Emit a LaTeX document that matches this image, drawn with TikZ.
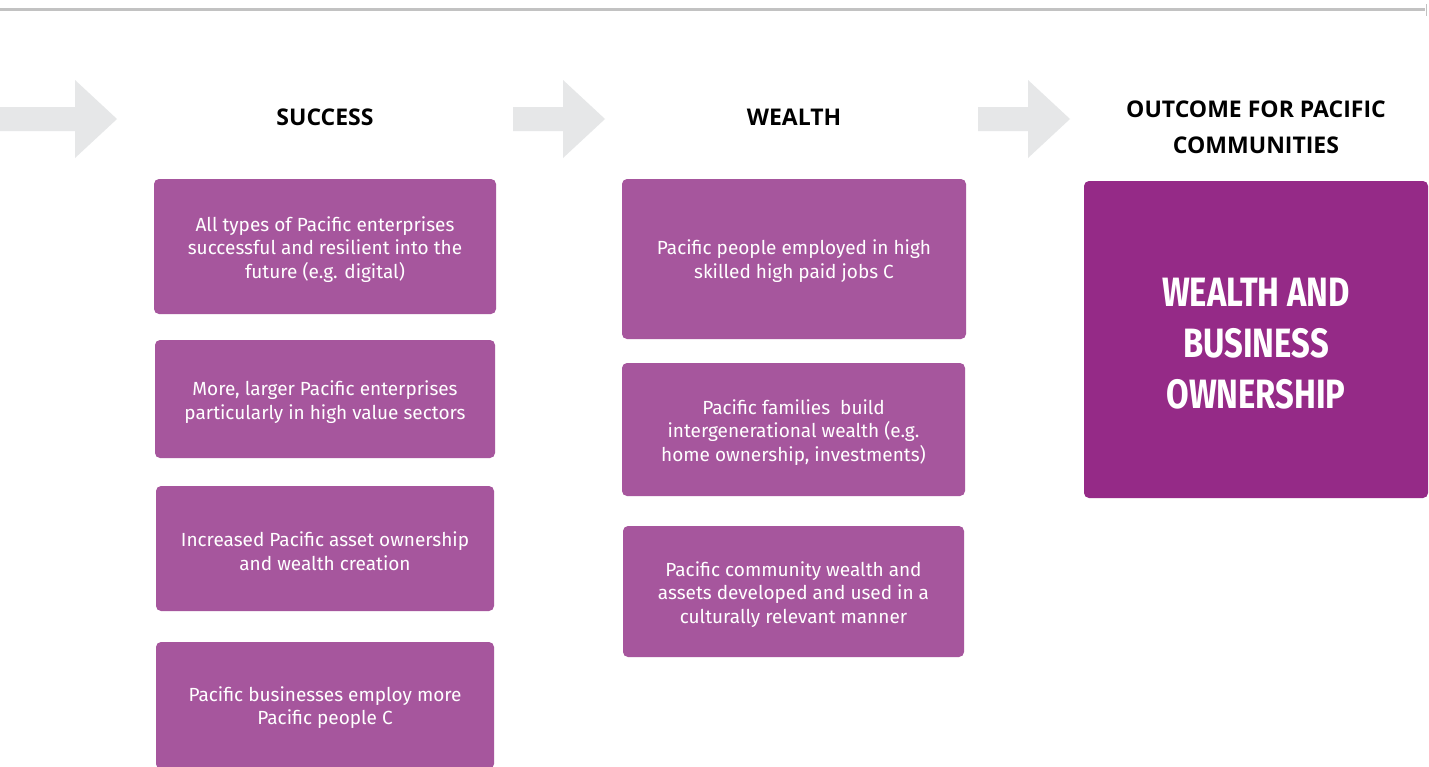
\documentclass[tikz,border=0pt]{standalone}
\usepackage{fontspec}
\setmainfont{Open Sans}
\newfontfamily\boxfont{Fira Sans}
\newfontfamily\headfont{Open Sans}
\newfontfamily\bigfont[FakeStretch=0.8]{Fira Sans}
\definecolor{boxc}{HTML}{A6569D}
\definecolor{darkc}{HTML}{952A87}
\definecolor{arrowc}{HTML}{E6E7E8}
\definecolor{linec}{HTML}{C2C2C2}
\tikzset{
  sbox/.style={fill=boxc, rounded corners=5pt, inner sep=0pt},
  stext/.style={text=white, align=center, inner sep=0pt,
    font=\boxfont\fontsize{19}{23.7}\selectfont},
  bigbox/.style={fill=darkc, rounded corners=5pt, inner sep=0pt},
  bigtext/.style={text=white, align=center, inner sep=0pt,
    font=\bigfont\bfseries\fontsize{41}{51}\selectfont},
  head/.style={font=\headfont\bfseries\fontsize{23}{36}\selectfont, align=center, text=black},
  bigarrow/.style={fill=arrowc}
}
\begin{document}
\begin{tikzpicture}[x=1pt,y=-1pt]
\clip (0,0) rectangle (1429,766);
\fill[white] (0,0) rectangle (1429,766);
% top rule
\draw[linec, line width=2.8pt] (0,9.6) -- (1425,9.6);
\draw[linec, line width=1pt] (1426,4) -- (1426,16);
% arrows
\fill[bigarrow] (0,107) -- (75,107) -- (75,80) -- (117,119) -- (75,158) -- (75,131) -- (0,131) -- cycle;
\fill[bigarrow] (513,107) -- (563,107) -- (563,80) -- (605,119) -- (563,158) -- (563,131) -- (513,131) -- cycle;
\fill[bigarrow] (978,107) -- (1028,107) -- (1028,80) -- (1070,119) -- (1028,158) -- (1028,131) -- (978,131) -- cycle;
% headers
\node[head] (hs) at (325,117) {SUCCESS};
\node[head] (hw) at (794,117) {WEALTH};
\node[head] (ho) at (1256,127) {OUTCOME FOR PACIFIC\\COMMUNITIES};
% success column
\node[sbox, minimum width=342pt, minimum height=135pt] (s1) at (325,246.5) {};
\node[stext] (s1t) at ([yshift=-3pt]s1.center)
  {All types of Pacific enterprises\\successful and resilient into the\\future (e.g. digital)};
\node[sbox, minimum width=340pt, minimum height=118pt] (s2) at (325,399) {};
\node[stext] (s2t) at ([yshift=-3pt]s2.center)
  {More, larger Pacific enterprises\\particularly in high value sectors};
\node[sbox, minimum width=338pt, minimum height=125pt] (s3) at (325,548.5) {};
\node[stext] (s3t) at ([yshift=-3pt]s3.center)
  {Increased Pacific asset ownership\\and wealth creation};
\node[sbox, minimum width=338pt, minimum height=127pt] (s4) at (325,705.5) {};
\node[stext] (s4t) at ([yshift=-2pt]s4.center)
  {Pacific businesses employ more\\Pacific people C};
% wealth column
\node[sbox, minimum width=344pt, minimum height=160pt] (w1) at (794,259) {};
\node[stext] (w1t) at ([yshift=-2pt]w1.center)
  {Pacific people employed in high\\skilled high paid jobs C};
\node[sbox, minimum width=343pt, minimum height=133pt] (w2) at (793.5,429.5) {};
\node[stext] (w2t) at ([yshift=-3pt]w2.center)
  {Pacific families\ \ build\\intergenerational wealth (e.g.\\home ownership, investments)};
\node[sbox, minimum width=341pt, minimum height=131pt] (w3) at (793.5,591.5) {};
\node[stext] (w3t) at ([yshift=-3pt]w3.center)
  {Pacific community wealth and\\assets developed and used in a\\culturally relevant manner};
% outcome
\node[bigbox, minimum width=344pt, minimum height=317pt] (o1) at (1256,339.5) {};
\node[bigtext] (o1t) at ([yshift=-4.5pt]o1.center)
  {WEALTH AND\\BUSINESS\\OWNERSHIP};
\end{tikzpicture}
\end{document}
